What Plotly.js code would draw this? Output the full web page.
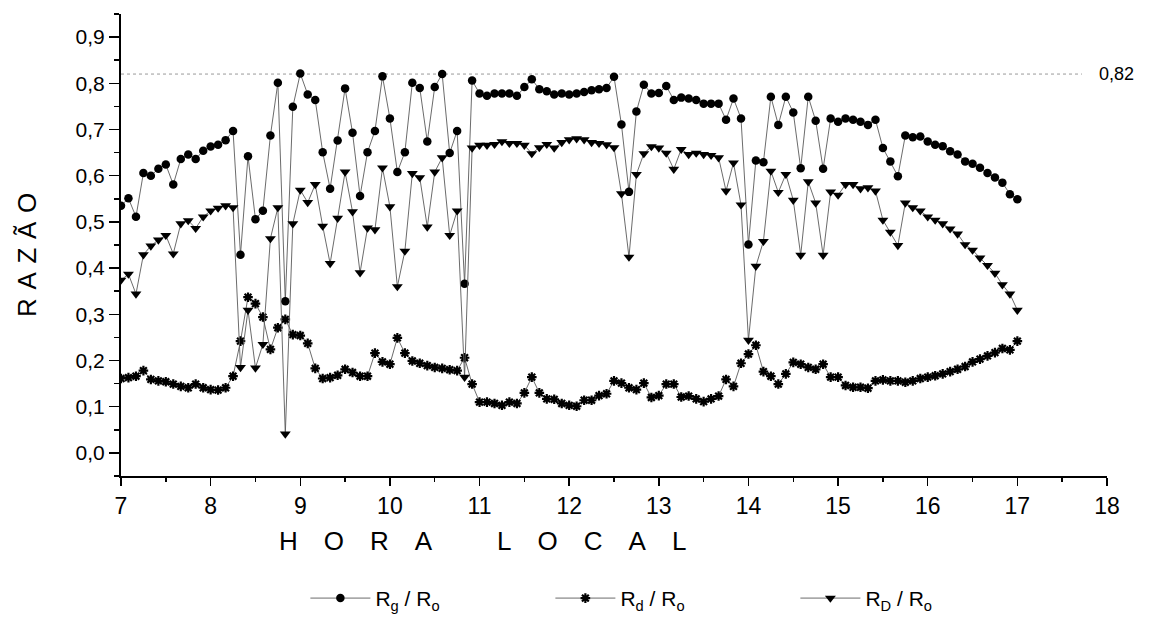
<!DOCTYPE html>
<html>
<head>
<meta charset="utf-8">
<script src="https://cdn.plot.ly/plotly-3.0.1.min.js"></script>
<style>
html,body{margin:0;padding:0;background:#fff;}
#chart{width:1157px;height:631px;}
</style>
</head>
<body>
<div id="chart"></div>
<script>
// Hora local (h), amostras a cada 5 min
const hora = [
 7.000,7.083,7.167,7.250,7.333,7.417,7.500,7.583,7.667,7.750,7.833,7.917,
 8.000,8.083,8.167,8.250,8.333,8.417,8.500,8.583,8.667,8.750,8.833,8.917,
 9.000,9.083,9.167,9.250,9.333,9.417,9.500,9.583,9.667,9.750,9.833,9.917,
 10.000,10.083,10.167,10.250,10.333,10.417,10.500,10.583,10.667,10.750,10.833,10.917,
 11.000,11.083,11.167,11.250,11.333,11.417,11.500,11.583,11.667,11.750,11.833,11.917,
 12.000,12.083,12.167,12.250,12.333,12.417,12.500,12.583,12.667,12.750,12.833,12.917,
 13.000,13.083,13.167,13.250,13.333,13.417,13.500,13.583,13.667,13.750,13.833,13.917,
 14.000,14.083,14.167,14.250,14.333,14.417,14.500,14.583,14.667,14.750,14.833,14.917,
 15.000,15.083,15.167,15.250,15.333,15.417,15.500,15.583,15.667,15.750,15.833,15.917,
 16.000,16.083,16.167,16.250,16.333,16.417,16.500,16.583,16.667,16.750,16.833,16.917,
 17.000
];

// Rg / Ro
const rgRo = [
 0.535,0.551,0.511,0.606,0.600,0.615,0.624,0.581,0.636,0.646,0.636,0.654,
 0.663,0.667,0.677,0.697,0.429,0.642,0.506,0.524,0.687,0.801,0.328,0.749,
 0.821,0.776,0.764,0.651,0.572,0.676,0.789,0.693,0.556,0.651,0.697,0.815,
 0.724,0.608,0.651,0.801,0.790,0.674,0.792,0.820,0.649,0.697,0.366,0.806,
 0.778,0.773,0.778,0.778,0.778,0.773,0.792,0.809,0.787,0.783,0.776,0.778,
 0.776,0.778,0.781,0.785,0.787,0.790,0.814,0.711,0.565,0.739,0.797,0.778,
 0.779,0.794,0.764,0.769,0.767,0.764,0.756,0.756,0.756,0.721,0.767,0.724,
 0.451,0.633,0.629,0.771,0.710,0.771,0.737,0.616,0.771,0.719,0.615,0.724,
 0.717,0.724,0.721,0.717,0.710,0.721,0.660,0.631,0.599,0.687,0.683,0.685,
 0.674,0.667,0.664,0.653,0.646,0.631,0.626,0.617,0.606,0.596,0.585,0.560,
 0.549
];

// Rd / Ro
const rdRo = [
 0.161,0.163,0.166,0.178,0.159,0.156,0.154,0.149,0.144,0.141,0.149,0.141,
 0.137,0.136,0.141,0.166,0.242,0.337,0.323,0.294,0.224,0.271,0.289,0.256,
 0.254,0.237,0.183,0.161,0.163,0.168,0.181,0.174,0.166,0.166,0.216,0.197,
 0.192,0.249,0.216,0.199,0.194,0.189,0.185,0.183,0.180,0.178,0.206,0.149,
 0.110,0.110,0.107,0.103,0.110,0.107,0.130,0.164,0.130,0.117,0.116,0.107,
 0.103,0.101,0.114,0.114,0.124,0.128,0.156,0.151,0.141,0.137,0.151,0.120,
 0.124,0.149,0.149,0.121,0.123,0.117,0.111,0.117,0.123,0.159,0.144,0.194,
 0.214,0.233,0.176,0.166,0.149,0.171,0.196,0.192,0.185,0.181,0.192,0.164,
 0.164,0.146,0.142,0.142,0.140,0.156,0.158,0.156,0.156,0.153,0.156,0.161,
 0.164,0.167,0.171,0.176,0.181,0.187,0.197,0.203,0.210,0.217,0.226,0.223,
 0.242
];

// RD / Ro
const rDRo = [
 0.374,0.387,0.344,0.429,0.448,0.461,0.471,0.431,0.496,0.503,0.486,0.511,
 0.524,0.530,0.535,0.531,0.185,0.309,0.184,0.235,0.464,0.531,0.041,0.496,
 0.569,0.542,0.581,0.491,0.410,0.508,0.608,0.522,0.390,0.487,0.483,0.617,
 0.533,0.360,0.437,0.605,0.596,0.489,0.608,0.639,0.471,0.524,0.164,0.660,
 0.666,0.666,0.668,0.674,0.670,0.670,0.666,0.648,0.661,0.668,0.660,0.672,
 0.678,0.680,0.678,0.672,0.670,0.667,0.661,0.561,0.424,0.603,0.648,0.663,
 0.660,0.649,0.614,0.657,0.646,0.649,0.646,0.644,0.639,0.567,0.628,0.537,
 0.244,0.404,0.458,0.610,0.564,0.603,0.547,0.428,0.587,0.541,0.428,0.565,
 0.558,0.581,0.581,0.572,0.574,0.567,0.504,0.478,0.449,0.541,0.531,0.524,
 0.511,0.504,0.496,0.485,0.474,0.451,0.439,0.422,0.406,0.389,0.364,0.344,
 0.309
];

const seriesNames = ["R<sub>g</sub> / R<sub>o</sub>", "R<sub>d</sub> / R<sub>o</sub>", "R<sub>D</sub> / R<sub>o</sub>"];
const xTicks = [7,8,9,10,11,12,13,14,15,16,17,18];
const yTicks = [0,0.1,0.2,0.3,0.4,0.5,0.6,0.7,0.8,0.9];
const refValue = 0.82;
const refLabel = "0,82";

const FONT = "Liberation Sans, Arial, Helvetica, sans-serif";
const LINE = "#5a5a5a";

const traces = [
  {x: hora, y: rgRo, name: seriesNames[0], mode: "lines+markers", type: "scatter",
   line: {color: LINE, width: 0.9},
   marker: {symbol: "circle", size: 8.5, color: "#000"}},
  {x: hora, y: rdRo, name: seriesNames[1], mode: "lines+markers", type: "scatter",
   line: {color: LINE, width: 0.9},
   marker: {symbol: "asterisk-open", size: 8, color: "#000", line: {color: "#000", width: 2.2}}},
  {x: hora, y: rDRo, name: seriesNames[2], mode: "lines+markers", type: "scatter",
   line: {color: LINE, width: 0.9},
   marker: {symbol: "triangle-down", size: 9.5, color: "#000"}}
];

const layout = {
  width: 1157, height: 631,
  margin: {l: 121, r: 50, t: 14, b: 150},
  paper_bgcolor: "#fff", plot_bgcolor: "#fff",
  separators: ",.",
  font: {family: FONT, color: "#000"},
  showlegend: true,
  xaxis: {
    range: [7, 18], tickvals: xTicks, ticktext: xTicks.map(String),
    showgrid: false, zeroline: false,
    showline: true, linecolor: "#000", linewidth: 2,
    ticks: "outside", ticklen: 8, tickwidth: 1.5, tickcolor: "#000",
    minor: {dtick: 0.5, ticks: "outside", ticklen: 4, tickwidth: 1.5, tickcolor: "#000", showgrid: false},
    tickfont: {family: FONT, size: 23, color: "#000"},
    fixedrange: true
  },
  yaxis: {
    range: [-0.05, 0.95], tickvals: yTicks, tickformat: ".1f",
    showgrid: false, zeroline: false,
    showline: true, linecolor: "#000", linewidth: 2,
    ticks: "outside", ticklen: 10, tickwidth: 1.5, tickcolor: "#000",
    minor: {dtick: 0.05, tick0: 0, ticks: "outside", ticklen: 5, tickwidth: 1.5, tickcolor: "#000", showgrid: false},
    tickfont: {family: FONT, size: 21, color: "#000"},
    fixedrange: true
  },
  shapes: [
    {type: "line", xref: "x", yref: "y", x0: 7, x1: 17.72, y0: refValue, y1: refValue,
     line: {color: "#999", width: 1, dash: "dot"}, layer: "below"}
  ],
  annotations: [
    {text: refLabel, xref: "paper", yref: "y", x: 1.0, y: refValue, xanchor: "left", yanchor: "middle",
     xshift: -10, showarrow: false, font: {family: FONT, size: 18, color: "#000"}},
    {text: "H\u2003O\u2003R\u2003A\u2003\u2003\u2002L\u2003O\u2003C\u2003A\u2003L",
     xref: "paper", yref: "paper", x: 0.367, y: -0.14, xanchor: "center", yanchor: "middle",
     showarrow: false, font: {family: FONT, size: 26, color: "#000"}},
    {text: "R\u2004A\u2004Z\u2004Ã\u2004O", textangle: -90,
     xref: "paper", yref: "paper", x: -0.0948, y: 0.4775, xanchor: "center", yanchor: "middle",
     showarrow: false, font: {family: FONT, size: 26, color: "#000"}}
  ],
  legend: {
    orientation: "h", x: 0.187, xanchor: "left", y: -0.265, yanchor: "middle",
    itemwidth: 60, entrywidth: 170, entrywidthmode: "pixels",
    font: {family: FONT, size: 21, color: "#000"},
    bgcolor: "rgba(0,0,0,0)", borderwidth: 0
  }
};

Plotly.newPlot("chart", traces, layout, {displayModeBar: false, staticPlot: true});
</script>
</body>
</html>
